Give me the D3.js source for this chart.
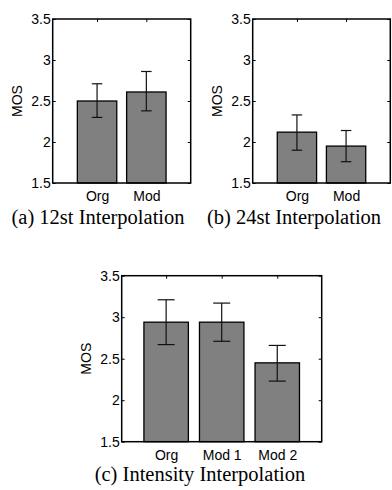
<!DOCTYPE html>
<html>
<head>
<meta charset="utf-8">
<script src="https://cdn.jsdelivr.net/npm/d3@7"></script>
<style>
  body { margin: 0; background: #fff; }
  .tick text { font-family: "Liberation Sans", Arial, sans-serif; font-size: 14px; fill: #000; }
</style>
</head>
<body>
<div id="chart"></div>
<script>
// shared y ticks
var yTicks = [1.5, 2, 2.5, 3, 3.5];

// (a) 12st Interpolation
var catsA = ["Org", "Mod"];
var mosA = [2.50, 2.61];
var lowA = [2.30, 2.38];
var highA = [2.71, 2.86];

// (b) 24st Interpolation
var catsB = ["Org", "Mod"];
var mosB = [2.12, 1.95];
var lowB = [1.90, 1.76];
var highB = [2.33, 2.14];

// (c) Intensity Interpolation
var catsC = ["Org", "Mod 1", "Mod 2"];
var mosC = [2.94, 2.94, 2.45];
var lowC = [2.67, 2.71, 2.23];
var highC = [3.21, 3.17, 2.66];

var captions = ["(a) 12st Interpolation", "(b) 24st Interpolation", "(c) Intensity Interpolation"];

var svg = d3.select("#chart")
  .append("svg")
    .attr("width", 392)
    .attr("height", 490);

function panel(cats, mos, low, high, box, caption) {
  var width = box.right - box.left,
      height = box.bottom - box.top;

  var g = svg.append("g")
    .attr("transform", "translate(" + box.left + "," + box.top + ")");

  var x = d3.scaleLinear()
    .domain([box.pad, cats.length + 1 - box.pad])
    .range([0, width]);
  var y = d3.scaleLinear()
    .domain([1.5, 3.5])
    .range([height, 0]);

  var idx = d3.range(1, cats.length + 1);

  // inward ticks on all four sides
  g.append("g")
    .call(d3.axisLeft(y).tickValues(yTicks).tickSize(-3).tickPadding(2).tickFormat(d3.format("")));
  g.append("g")
    .attr("transform", "translate(" + width + ",0)")
    .call(d3.axisRight(y).tickValues(yTicks).tickSize(-3).tickFormat(""));
  g.append("g")
    .call(d3.axisTop(x).tickValues(idx).tickSize(-3).tickFormat(""));
  g.append("g")
    .attr("transform", "translate(0," + height + ")")
    .call(d3.axisBottom(x).tickValues(idx).tickSize(0).tickPadding(8)
      .tickFormat(function(d) { return cats[d - 1]; }));
  g.selectAll(".domain").remove();
  g.selectAll(".tick line").attr("stroke", "#000");

  var bw = x(1.4) - x(0.6);
  g.selectAll("rect.bar")
    .data(mos)
    .enter()
    .append("rect")
      .attr("class", "bar")
      .attr("x", function(d, i) { return x(i + 1) - bw / 2; })
      .attr("y", function(d) { return y(d); })
      .attr("width", bw)
      .attr("height", function(d) { return height - y(d); })
      .attr("fill", "#808080")
      .attr("stroke", "#000")
      .attr("stroke-width", 1.3);

  // error bars
  var cap = box.cap / 2;
  var eb = g.selectAll("g.err")
    .data(mos)
    .enter()
    .append("g")
      .attr("class", "err")
      .attr("stroke", "#111")
      .attr("stroke-width", 1.2);
  eb.append("line")
    .attr("x1", function(d, i) { return x(i + 1); })
    .attr("x2", function(d, i) { return x(i + 1); })
    .attr("y1", function(d, i) { return y(low[i]); })
    .attr("y2", function(d, i) { return y(high[i]); });
  eb.append("line")
    .attr("x1", function(d, i) { return x(i + 1) - cap; })
    .attr("x2", function(d, i) { return x(i + 1) + cap; })
    .attr("y1", function(d, i) { return y(high[i]); })
    .attr("y2", function(d, i) { return y(high[i]); });
  eb.append("line")
    .attr("x1", function(d, i) { return x(i + 1) - cap; })
    .attr("x2", function(d, i) { return x(i + 1) + cap; })
    .attr("y1", function(d, i) { return y(low[i]); })
    .attr("y2", function(d, i) { return y(low[i]); });

  // frame
  g.append("rect")
    .attr("width", width)
    .attr("height", height)
    .attr("fill", "none")
    .attr("stroke", "#000")
    .attr("stroke-width", 1.5);

  g.append("text")
    .attr("transform", "rotate(-90)")
    .attr("x", -height / 2)
    .attr("y", -35.5)
    .attr("dy", "0.35em")
    .attr("text-anchor", "middle")
    .style("font-family", "'Liberation Sans', Arial, sans-serif")
    .style("font-size", "14px")
    .text("MOS");

  svg.append("text")
    .attr("x", box.capX)
    .attr("y", box.capY)
    .attr("text-anchor", "middle")
    .style("font-family", "'Liberation Serif', 'Times New Roman', serif")
    .style("font-size", "20.5px")
    .text(caption);
}

panel(catsA, mosA, lowA, highA,
  {left: 52.7, right: 190.7, top: 19, bottom: 183, pad: 0.1, cap: 10.5, capX: 98, capY: 224}, captions[0]);
panel(catsB, mosB, lowB, highB,
  {left: 252.7, right: 390.3, top: 19, bottom: 183, pad: 0.1, cap: 10.5, capX: 294, capY: 224}, captions[1]);
panel(catsC, mosC, lowC, highC,
  {left: 121.7, right: 321.7, top: 275.7, bottom: 441.7, pad: 0.2, cap: 17, capX: 200, capY: 481}, captions[2]);
</script>
</body>
</html>
